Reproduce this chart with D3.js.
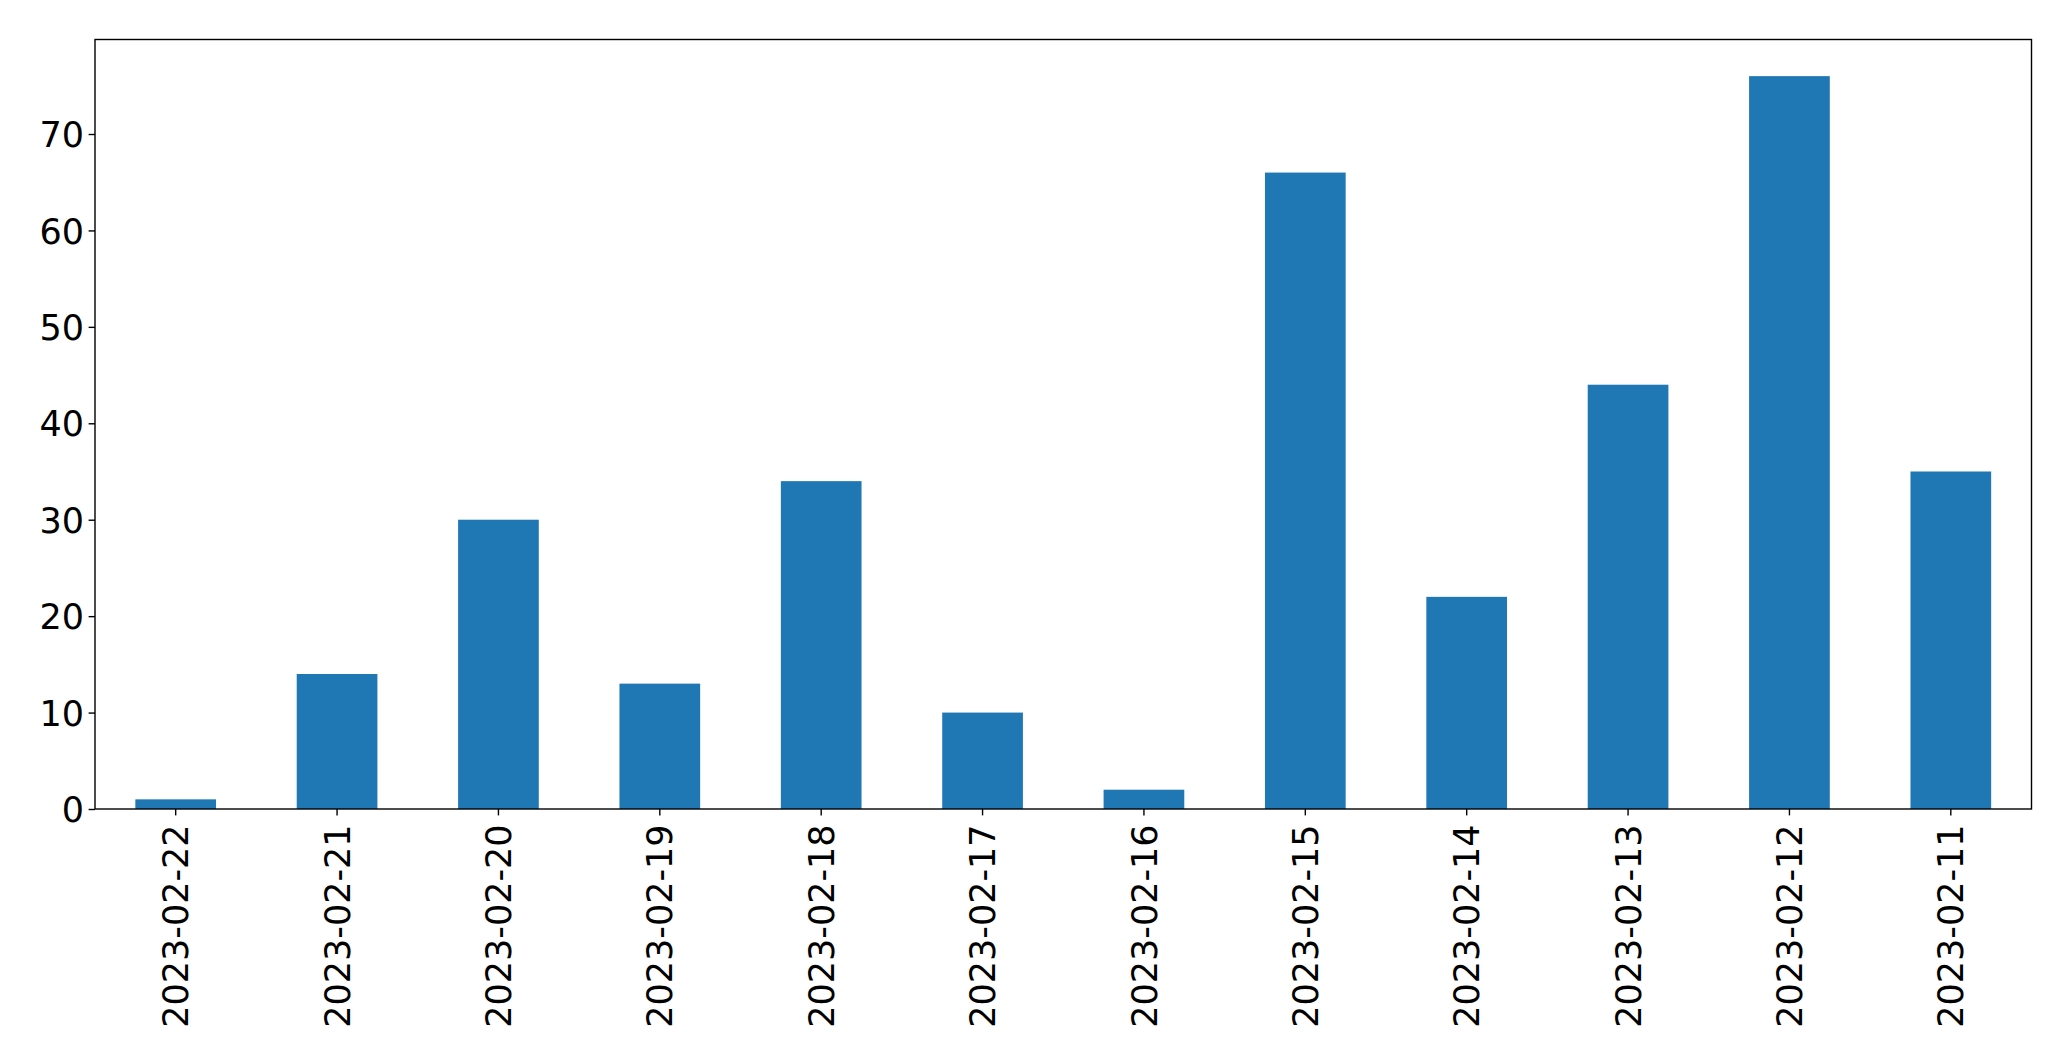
<!DOCTYPE html>
<html>
<head>
<meta charset="utf-8">
<script src="https://cdn.jsdelivr.net/npm/d3@7"></script>
<style>
  html, body { margin: 0; padding: 0; background: #fff; }
  svg { display: block; }
</style>
</head>
<body>
<script>
const categories = ["2023-02-22","2023-02-21","2023-02-20","2023-02-19","2023-02-18","2023-02-17","2023-02-16","2023-02-15","2023-02-14","2023-02-13","2023-02-12","2023-02-11"];
const values = [1, 14, 30, 13, 34, 10, 2, 66, 22, 44, 76, 35];
const yTicks = [0, 10, 20, 30, 40, 50, 60, 70];

(function () {
const W = 2071, H = 1061;
const mLeft = 95, mRight = 2031.5, mTop = 39.5, mBottom = 809;
const fontSize = 35, tickLen = 6.4, lw = 1.4;

const svg = d3.select("body").append("svg").attr("width", W).attr("height", H);
svg.append("rect").attr("width", W).attr("height", H).attr("fill", "#fff");

const x = d3.scaleBand().domain(categories).range([mLeft, mRight]).paddingInner(0.5).paddingOuter(0.25);
const yMax = d3.max(values) * 1.05;
const y = d3.scaleLinear().domain([0, yMax]).range([mBottom, mTop]);

svg.append("g").selectAll("rect").data(values).join("rect")
  .attr("x", (d, i) => x(categories[i]))
  .attr("width", x.bandwidth())
  .attr("y", d => y(d))
  .attr("height", d => y(0) - y(d))
  .attr("fill", "#1f77b4");

const font = "'DejaVu Sans', sans-serif";

const yAxis = svg.append("g").attr("transform", `translate(${mLeft},0)`)
  .call(d3.axisLeft(y).tickValues(yTicks).tickSize(tickLen).tickPadding(4.5).tickFormat(d3.format("d")));
yAxis.select(".domain").remove();
yAxis.selectAll("line").attr("stroke", "#000").attr("stroke-width", lw);
yAxis.selectAll("text").attr("font-family", font).attr("font-size", fontSize).attr("fill", "#000").attr("dy", "0.36em");

const xAxis = svg.append("g").attr("transform", `translate(0,${mBottom})`)
  .call(d3.axisBottom(x).tickSize(tickLen).tickPadding(6));
xAxis.select(".domain").remove();
xAxis.selectAll("line").attr("stroke", "#000").attr("stroke-width", lw);
xAxis.selectAll("text")
  .attr("font-family", font).attr("font-size", fontSize).attr("fill", "#000")
  .attr("text-anchor", "end")
  .attr("x", 0).attr("y", 0).attr("dy", "0.36em")
  .attr("transform", `translate(0,${tickLen + 9}) rotate(-90)`);

svg.append("rect")
  .attr("x", mLeft).attr("y", mTop)
  .attr("width", mRight - mLeft).attr("height", mBottom - mTop)
  .attr("fill", "none").attr("stroke", "#000").attr("stroke-width", lw);
})();
</script>
</body>
</html>
